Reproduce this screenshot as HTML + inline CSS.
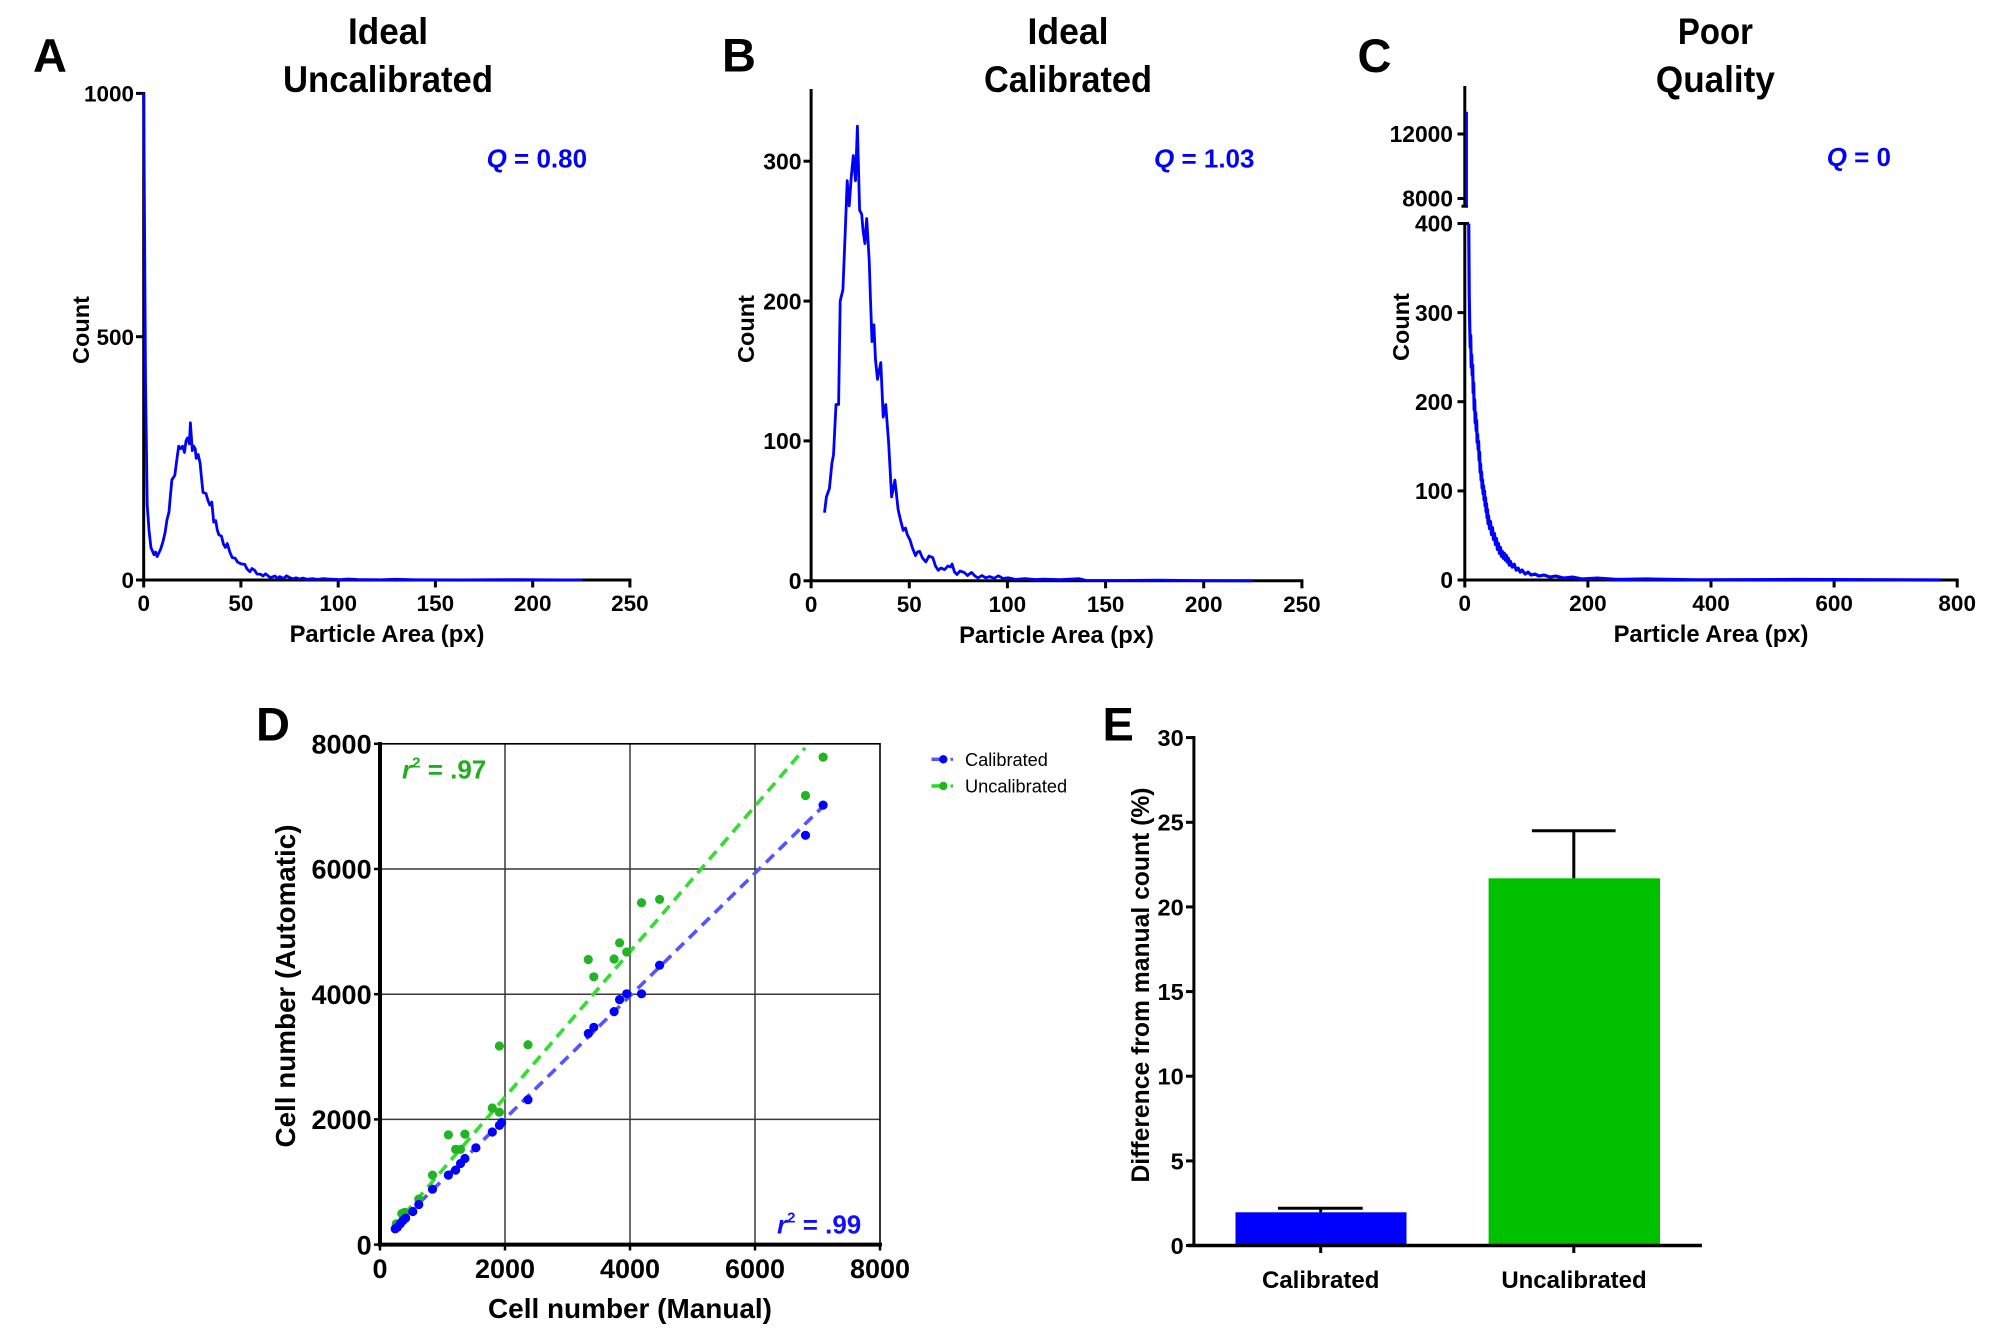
<!DOCTYPE html>
<html>
<head>
<meta charset="utf-8">
<style>
html,body{margin:0;padding:0;background:#fff;}
svg{display:block;}
text{font-family:"Liberation Sans",Arial,sans-serif;}
.b{font-weight:bold;}
</style>
</head>
<body>
<svg width="2000" height="1339" viewBox="0 0 2000 1339" xmlns="http://www.w3.org/2000/svg">
<rect x="0" y="0" width="2000" height="1339" fill="#fff"/>

<!-- ================= PANEL A ================= -->
<text x="33" y="72" class="b" font-size="47">A</text>
<text x="388" y="44.2" class="b" font-size="37" text-anchor="middle" textLength="80" lengthAdjust="spacingAndGlyphs">Ideal</text>
<text x="388" y="91.8" class="b" font-size="37" text-anchor="middle" textLength="210" lengthAdjust="spacingAndGlyphs">Uncalibrated</text>
<g stroke="#000" stroke-width="3" fill="none">
  <line x1="143.7" y1="92" x2="143.7" y2="581.5"/>
  <line x1="142.2" y1="580" x2="631.4" y2="580"/>
  <line x1="136" y1="93.4" x2="143.7" y2="93.4"/>
  <line x1="136" y1="336.7" x2="143.7" y2="336.7"/>
  <line x1="136" y1="580" x2="143.7" y2="580"/>
  <line x1="143.7" y1="580" x2="143.7" y2="587.5"/>
  <line x1="240.9" y1="580" x2="240.9" y2="587.5"/>
  <line x1="338.2" y1="580" x2="338.2" y2="587.5"/>
  <line x1="435.4" y1="580" x2="435.4" y2="587.5"/>
  <line x1="532.7" y1="580" x2="532.7" y2="587.5"/>
  <line x1="629.9" y1="580" x2="629.9" y2="587.5"/>
</g>
<g class="b" font-size="22.5" text-anchor="end">
  <text x="134" y="101.5">1000</text>
  <text x="134" y="344.8">500</text>
  <text x="134" y="588.1">0</text>
</g>
<g class="b" font-size="22.5" text-anchor="middle">
  <text x="143.7" y="611">0</text>
  <text x="240.9" y="611">50</text>
  <text x="338.2" y="611">100</text>
  <text x="435.4" y="611">150</text>
  <text x="532.7" y="611">200</text>
  <text x="629.9" y="611">250</text>
</g>
<text x="387" y="642" class="b" font-size="23.8" text-anchor="middle">Particle Area (px)</text>
<text transform="translate(89,330) rotate(-90)" class="b" font-size="23.5" text-anchor="middle">Count</text>
<text x="486.6" y="167.5" class="b" font-size="26" fill="#0000ff"><tspan font-style="italic">Q</tspan> = 0.80</text>
<polyline fill="none" stroke="#0000ff" stroke-width="2.8" stroke-linejoin="round" points="143.7,93.4 145.5,379 147.2,505.1 149,530 150.9,547.4 154,554.7 155.5,552 157.1,556.6 158.8,553 160.6,549.3 163.1,541.1 165,533 167,519.7 169,511.9 170.2,498 171.9,479.8 174.8,475.4 176.5,462 178.7,446.2 180.6,448.6 182.6,446.2 184.5,452.5 186,441 187.5,437.9 189.4,443.8 190.4,422.8 192.3,450.6 193.5,446 195.2,448.6 196.2,458.4 198.2,454.5 200.1,463.2 201.5,478 203,492.4 205.9,493.4 207.8,500 209.8,505.1 211.8,502.1 213.7,522.1 215.7,520.6 217.3,530 218.8,534.7 221.5,536.2 223.4,544 225.4,547.4 227.3,543.5 229.8,552 232.2,557.6 235.1,558.1 237.5,562 241,563.9 244.8,564.4 247,569 249.9,571.7 252,568.5 254.6,570.3 257,574 260.4,574.2 263,576 265.5,573.8 267.8,575.6 270,577.5 272.1,577.1 275,576 277.5,578.5 279.8,576.6 283.7,578.5 286.5,575.8 289.6,577.6 293,578.8 296,577.8 299.3,579 303.2,578.1 307,579.3 312.9,578.7 318,579.4 323,578.6 328.5,579 340,579.6 348,579 357.6,579.5 380,579.8 395,579.3 416,579.8 460,579.9 520,579.6 582.6,580"/>

<!-- ================= PANEL B ================= -->
<text x="722" y="71.5" class="b" font-size="47">B</text>
<text x="1068" y="44.2" class="b" font-size="37" text-anchor="middle" textLength="81" lengthAdjust="spacingAndGlyphs">Ideal</text>
<text x="1068" y="91.8" class="b" font-size="37" text-anchor="middle" textLength="168" lengthAdjust="spacingAndGlyphs">Calibrated</text>
<g stroke="#000" stroke-width="3" fill="none">
  <line x1="811.1" y1="89" x2="811.1" y2="582.3"/>
  <line x1="809.6" y1="580.8" x2="1303.4" y2="580.8"/>
  <line x1="803.5" y1="161.2" x2="811.1" y2="161.2"/>
  <line x1="803.5" y1="301.1" x2="811.1" y2="301.1"/>
  <line x1="803.5" y1="440.9" x2="811.1" y2="440.9"/>
  <line x1="803.5" y1="580.8" x2="811.1" y2="580.8"/>
  <line x1="811.1" y1="580.8" x2="811.1" y2="588.3"/>
  <line x1="909.3" y1="580.8" x2="909.3" y2="588.3"/>
  <line x1="1007.4" y1="580.8" x2="1007.4" y2="588.3"/>
  <line x1="1105.6" y1="580.8" x2="1105.6" y2="588.3"/>
  <line x1="1203.7" y1="580.8" x2="1203.7" y2="588.3"/>
  <line x1="1301.9" y1="580.8" x2="1301.9" y2="588.3"/>
</g>
<g class="b" font-size="23" text-anchor="end">
  <text x="801.6" y="169.4">300</text>
  <text x="801.6" y="309.3">200</text>
  <text x="801.6" y="449.1">100</text>
  <text x="801.6" y="589">0</text>
</g>
<g class="b" font-size="22.5" text-anchor="middle">
  <text x="811.1" y="612">0</text>
  <text x="909.3" y="612">50</text>
  <text x="1007.4" y="612">100</text>
  <text x="1105.6" y="612">150</text>
  <text x="1203.7" y="612">200</text>
  <text x="1301.9" y="612">250</text>
</g>
<text x="1056.5" y="643" class="b" font-size="23.8" text-anchor="middle">Particle Area (px)</text>
<text transform="translate(754,329) rotate(-90)" class="b" font-size="23.5" text-anchor="middle">Count</text>
<text x="1154" y="167.5" class="b" font-size="26" fill="#0000ff"><tspan font-style="italic">Q</tspan> = 1.03</text>
<polyline fill="none" stroke="#0000ff" stroke-width="2.8" stroke-linejoin="round" points="824.5,512.7 826.4,496.9 829.4,488.5 831.9,463.3 833.5,454.9 836,404.5 838.6,404.5 840.2,301 842.9,289.8 845.1,235.2 847.2,180.7 849.2,205.9 851.3,176.5 853.3,155.5 855.5,180.7 857.4,126.1 859.6,210.1 861.7,214.3 863,230 864.9,243.6 866.7,218.5 869.2,260.4 870.5,300 872,341.6 873.9,324.8 875.5,360 877.5,379.3 880.8,362.6 883.2,417.1 885.7,404.5 888.6,442.3 891.6,496.9 894.9,480.1 898.1,509.4 900.5,520 903.2,530.4 905.5,528 907.3,534.6 910,540 912.2,547.2 915.5,555.6 917.5,552 919.7,551.4 922.5,558 925.9,561.9 929,556 932.8,557.7 935.5,566 938.3,570.3 941,568 944.6,569.6 948,566 950.5,567 952.1,564 954.5,572 957,574.5 960,571 964.2,572.4 967.5,575.5 971.5,572.4 975,576 978,578 982,575.5 985.5,577.8 989.7,576.6 994,578.3 998.4,575.8 1003,578.5 1008,577.8 1015.3,579.4 1025,578.6 1035,579.5 1044.1,579.1 1060,579.6 1070,579.2 1079.3,578.7 1086,580.4 1120,580.5 1160,580.2 1200,580.7 1252.8,580.8"/>

<!-- ================= PANEL C ================= -->
<text x="1357.5" y="72.2" class="b" font-size="47">C</text>
<text x="1715.4" y="44.2" class="b" font-size="37" text-anchor="middle" textLength="75" lengthAdjust="spacingAndGlyphs">Poor</text>
<text x="1715.4" y="91.8" class="b" font-size="37" text-anchor="middle" textLength="119" lengthAdjust="spacingAndGlyphs">Quality</text>
<g stroke="#000" stroke-width="3" fill="none">
  <line x1="1464.8" y1="86" x2="1464.8" y2="206.7"/>
  <line x1="1461.5" y1="206.2" x2="1468" y2="206.2"/>
  <line x1="1457.5" y1="134" x2="1464.8" y2="134"/>
  <line x1="1457.5" y1="198.5" x2="1464.8" y2="198.5"/>
  <line x1="1464.8" y1="222.5" x2="1464.8" y2="581.5"/>
  <line x1="1457.5" y1="223.5" x2="1469" y2="223.5"/>
  <line x1="1457.5" y1="312.6" x2="1464.8" y2="312.6"/>
  <line x1="1457.5" y1="401.7" x2="1464.8" y2="401.7"/>
  <line x1="1457.5" y1="490.9" x2="1464.8" y2="490.9"/>
  <line x1="1457.5" y1="580" x2="1464.8" y2="580"/>
  <line x1="1463.3" y1="580" x2="1958.7" y2="580"/>
  <line x1="1464.8" y1="580" x2="1464.8" y2="587.5"/>
  <line x1="1587.9" y1="580" x2="1587.9" y2="587.5"/>
  <line x1="1711" y1="580" x2="1711" y2="587.5"/>
  <line x1="1834.1" y1="580" x2="1834.1" y2="587.5"/>
  <line x1="1957.2" y1="580" x2="1957.2" y2="587.5"/>
</g>
<g class="b" font-size="22.8" text-anchor="end">
  <text x="1453" y="142.2">12000</text>
  <text x="1453" y="206.7">8000</text>
  <text x="1453" y="231.7">400</text>
  <text x="1453" y="320.8">300</text>
  <text x="1453" y="409.9">200</text>
  <text x="1453" y="499.1">100</text>
  <text x="1453" y="588.2">0</text>
</g>
<g class="b" font-size="22.5" text-anchor="middle">
  <text x="1464.8" y="611">0</text>
  <text x="1587.9" y="611">200</text>
  <text x="1711" y="611">400</text>
  <text x="1834.1" y="611">600</text>
  <text x="1957.2" y="611">800</text>
</g>
<text x="1711" y="642" class="b" font-size="23.8" text-anchor="middle">Particle Area (px)</text>
<text transform="translate(1409,327) rotate(-90)" class="b" font-size="23.5" text-anchor="middle">Count</text>
<text x="1826.7" y="166" class="b" font-size="26" fill="#0000ff"><tspan font-style="italic">Q</tspan> = 0</text>
<line x1="1466.6" y1="111.7" x2="1466.6" y2="206" stroke="#0000ff" stroke-width="2.6"/>
<g transform="matrix(0.989 0 0 0.99 14.9 -1.13)">
<polyline fill="none" stroke="#0000ff" stroke-width="3.2" stroke-linejoin="round" points="1470,227 1470.5,300 1471,330 1471.5,352 1472,340 1472.5,372 1473,360 1473.5,380 1474,370 1474.5,398 1475,388 1475.5,415 1476,405 1476.5,428 1477,418 1477.5,436 1478,426 1478.5,448 1479,440 1479.5,455 1480,447 1480.5,466 1481,458 1481.5,478 1482,470 1482.5,486 1483,478 1483.5,494 1484,486 1484.5,500 1485,492 1485.5,506 1486,497 1486.5,512 1487,504 1487.5,518 1488,510 1488.5,524 1489,516 1489.5,530 1490,522 1491,535 1492,528 1493,541 1494,534 1495,546 1496,540 1497,551 1498,545 1499,556 1500,550 1501,560 1502,554 1503,563 1504,558 1505,565 1506,560 1507,567 1508,562 1509,569 1510,565 1511,572 1512,568 1514,574 1516,571 1518,577 1520,575 1522,579 1524,577 1527,581 1530,579 1533,582 1537,581 1541,583 1546,582 1552,584 1558,583 1566,585 1575,584 1585,586 1600,585 1620,586.5 1650,586 1700,586.8 1800,586.5 1947,587"/>
</g>

<!-- ================= PANEL D ================= -->
<text x="256" y="740.5" class="b" font-size="47">D</text>
<g stroke="#3a3a3a" stroke-width="1.5" fill="none">
  <line x1="505" y1="743.8" x2="505" y2="1244.6"/>
  <line x1="630" y1="743.8" x2="630" y2="1244.6"/>
  <line x1="755" y1="743.8" x2="755" y2="1244.6"/>
  <line x1="380" y1="1119.4" x2="880" y2="1119.4"/>
  <line x1="380" y1="994.2" x2="880" y2="994.2"/>
  <line x1="380" y1="869" x2="880" y2="869"/>
</g>
<g stroke="#000" fill="none">
  <line x1="380" y1="743.8" x2="880.8" y2="743.8" stroke-width="1.6"/>
  <line x1="880" y1="743.8" x2="880" y2="1244.6" stroke-width="1.6"/>
  <line x1="380" y1="742" x2="380" y2="1246.6" stroke-width="4"/>
  <line x1="378" y1="1244.6" x2="882" y2="1244.6" stroke-width="4"/>
  <g stroke-width="2.5">
    <line x1="374" y1="743.8" x2="380" y2="743.8"/>
    <line x1="374" y1="869" x2="380" y2="869"/>
    <line x1="374" y1="994.2" x2="380" y2="994.2"/>
    <line x1="374" y1="1119.4" x2="380" y2="1119.4"/>
    <line x1="374" y1="1244.6" x2="380" y2="1244.6"/>
    <line x1="380" y1="1244.6" x2="380" y2="1250.5"/>
    <line x1="505" y1="1244.6" x2="505" y2="1250.5"/>
    <line x1="630" y1="1244.6" x2="630" y2="1250.5"/>
    <line x1="755" y1="1244.6" x2="755" y2="1250.5"/>
    <line x1="880" y1="1244.6" x2="880" y2="1250.5"/>
  </g>
</g>
<g class="b" font-size="27" text-anchor="end">
  <text x="371.6" y="753.5">8000</text>
  <text x="371.6" y="878.7">6000</text>
  <text x="371.6" y="1003.9">4000</text>
  <text x="371.6" y="1129.1">2000</text>
  <text x="371.6" y="1254.3">0</text>
</g>
<g class="b" font-size="27" text-anchor="middle">
  <text x="380" y="1278">0</text>
  <text x="505" y="1278">2000</text>
  <text x="630" y="1278">4000</text>
  <text x="755" y="1278">6000</text>
  <text x="880" y="1278">8000</text>
</g>
<text x="630" y="1318" class="b" font-size="28" text-anchor="middle" textLength="284" lengthAdjust="spacingAndGlyphs">Cell number (Manual)</text>
<text transform="translate(295,986) rotate(-90)" class="b" font-size="28" text-anchor="middle" textLength="323" lengthAdjust="spacingAndGlyphs">Cell number (Automatic)</text>
<text x="402" y="778.5" class="b" font-size="26" fill="#1fae1f"><tspan font-style="italic">r</tspan><tspan font-size="15" dy="-11">2</tspan><tspan dy="11"> = .97</tspan></text>
<text x="777" y="1233.5" class="b" font-size="26" fill="#1010ff"><tspan font-style="italic">r</tspan><tspan font-size="15" dy="-11">2</tspan><tspan dy="11"> = .99</tspan></text>
<line x1="392.5" y1="1228.1" x2="805" y2="748" stroke="#33dd33" stroke-width="3.6" stroke-dasharray="11 7"/>
<line x1="393.6" y1="1228.1" x2="821.4" y2="808" stroke="#5555ff" stroke-width="3.6" stroke-dasharray="11 7"/>
<g fill="#22b422">
  <circle cx="396.3" cy="1223.9" r="4.6"/><circle cx="401.8" cy="1213.6" r="4.6"/><circle cx="404.6" cy="1212.3" r="4.6"/>
  <circle cx="418.8" cy="1199.1" r="4.6"/><circle cx="432.5" cy="1175.1" r="4.6"/><circle cx="448.4" cy="1134.9" r="4.6"/>
  <circle cx="455.6" cy="1149.4" r="4.6"/><circle cx="460.5" cy="1149.4" r="4.6"/><circle cx="464.9" cy="1134.1" r="4.6"/>
  <circle cx="492.3" cy="1108" r="4.6"/><circle cx="499.4" cy="1112.2" r="4.6"/><circle cx="499.4" cy="1046" r="4.6"/>
  <circle cx="528" cy="1044.7" r="4.6"/><circle cx="588.3" cy="959.5" r="4.6"/><circle cx="593.8" cy="976.8" r="4.6"/>
  <circle cx="614.1" cy="959" r="4.6"/><circle cx="619.6" cy="942.9" r="4.6"/><circle cx="626.7" cy="952" r="4.6"/>
  <circle cx="641.5" cy="902.7" r="4.6"/><circle cx="659.6" cy="899.4" r="4.6"/><circle cx="805.5" cy="795.5" r="4.6"/>
  <circle cx="823.1" cy="757.1" r="4.6"/>
</g>
<g fill="#0000ff">
  <circle cx="395.2" cy="1228.9" r="4.6"/><circle cx="397.4" cy="1227.2" r="4.6"/><circle cx="400.2" cy="1223.9" r="4.6"/>
  <circle cx="402.9" cy="1220.6" r="4.6"/><circle cx="405.6" cy="1218.1" r="4.6"/><circle cx="412.8" cy="1211.5" r="4.6"/>
  <circle cx="418.8" cy="1204.5" r="4.6"/><circle cx="432.5" cy="1189.2" r="4.6"/><circle cx="448.4" cy="1175.1" r="4.6"/>
  <circle cx="455.6" cy="1170.1" r="4.6"/><circle cx="460.5" cy="1163.5" r="4.6"/><circle cx="464.9" cy="1158.5" r="4.6"/>
  <circle cx="475.9" cy="1147.8" r="4.6"/><circle cx="492.3" cy="1132" r="4.6"/><circle cx="499.4" cy="1125.4" r="4.6"/>
  <circle cx="501.6" cy="1122.5" r="4.6"/><circle cx="528" cy="1099.8" r="4.6"/><circle cx="588.3" cy="1033.5" r="4.6"/>
  <circle cx="593.8" cy="1027.3" r="4.6"/><circle cx="614.1" cy="1011.6" r="4.6"/><circle cx="619.6" cy="999.6" r="4.6"/>
  <circle cx="626.7" cy="993.8" r="4.6"/><circle cx="641.5" cy="993.8" r="4.6"/><circle cx="659.6" cy="965.2" r="4.6"/>
  <circle cx="805.5" cy="835.3" r="4.6"/><circle cx="823.1" cy="805.1" r="4.6"/>
</g>
<!-- legend -->
<line x1="931.5" y1="759.3" x2="940" y2="759.3" stroke="#5555ff" stroke-width="3.5"/>
<circle cx="943.3" cy="759.3" r="4.2" fill="#0000ff"/>
<line x1="950.5" y1="759.3" x2="953" y2="759.3" stroke="#5555ff" stroke-width="3"/>
<text x="965" y="766" font-size="18.2" fill="#000">Calibrated</text>
<line x1="931.5" y1="786" x2="940" y2="786" stroke="#22dd22" stroke-width="3.5"/>
<circle cx="943.3" cy="786" r="4.2" fill="#22b422"/>
<line x1="950.5" y1="786" x2="953" y2="786" stroke="#22dd22" stroke-width="3"/>
<text x="965" y="792.7" font-size="18.2" fill="#000">Uncalibrated</text>

<!-- ================= PANEL E ================= -->
<text x="1102.5" y="740.5" class="b" font-size="47">E</text>
<rect x="1235.5" y="1212.3" width="171" height="33.2" fill="#0000ff"/>
<rect x="1488.6" y="878.3" width="171.4" height="367.2" fill="#00c000"/>
<g stroke="#000" stroke-width="3" fill="none">
  <line x1="1193.9" y1="736" x2="1193.9" y2="1247"/>
  <line x1="1187.8" y1="1245.5" x2="1702" y2="1245.5" stroke-width="3.5"/>
  <line x1="1186" y1="737.6" x2="1193.9" y2="737.6"/>
  <line x1="1186" y1="822.3" x2="1193.9" y2="822.3"/>
  <line x1="1186" y1="906.9" x2="1193.9" y2="906.9"/>
  <line x1="1186" y1="991.6" x2="1193.9" y2="991.6"/>
  <line x1="1186" y1="1076.2" x2="1193.9" y2="1076.2"/>
  <line x1="1186" y1="1160.9" x2="1193.9" y2="1160.9"/>
  <line x1="1186" y1="1245.5" x2="1193.9" y2="1245.5"/>
  <line x1="1320.7" y1="1245.5" x2="1320.7" y2="1253"/>
  <line x1="1573.8" y1="1245.5" x2="1573.8" y2="1253"/>
  <line x1="1320.7" y1="1212.3" x2="1320.7" y2="1208.3"/>
  <line x1="1278" y1="1208.3" x2="1362.7" y2="1208.3"/>
  <line x1="1573.8" y1="878.3" x2="1573.8" y2="830.7"/>
  <line x1="1531.9" y1="830.7" x2="1615.6" y2="830.7"/>
</g>
<g class="b" font-size="23.5" text-anchor="end">
  <text x="1183.7" y="746">30</text>
  <text x="1183.7" y="830.7">25</text>
  <text x="1183.7" y="915.3">20</text>
  <text x="1183.7" y="1000">15</text>
  <text x="1183.7" y="1084.6">10</text>
  <text x="1183.7" y="1169.3">5</text>
  <text x="1183.7" y="1253.9">0</text>
</g>
<text x="1320.7" y="1288" class="b" font-size="24" text-anchor="middle">Calibrated</text>
<text x="1574" y="1288" class="b" font-size="24" text-anchor="middle">Uncalibrated</text>
<text transform="translate(1149,985) rotate(-90)" class="b" font-size="24.7" text-anchor="middle">Difference from manual count (%)</text>
</svg>
</body>
</html>
